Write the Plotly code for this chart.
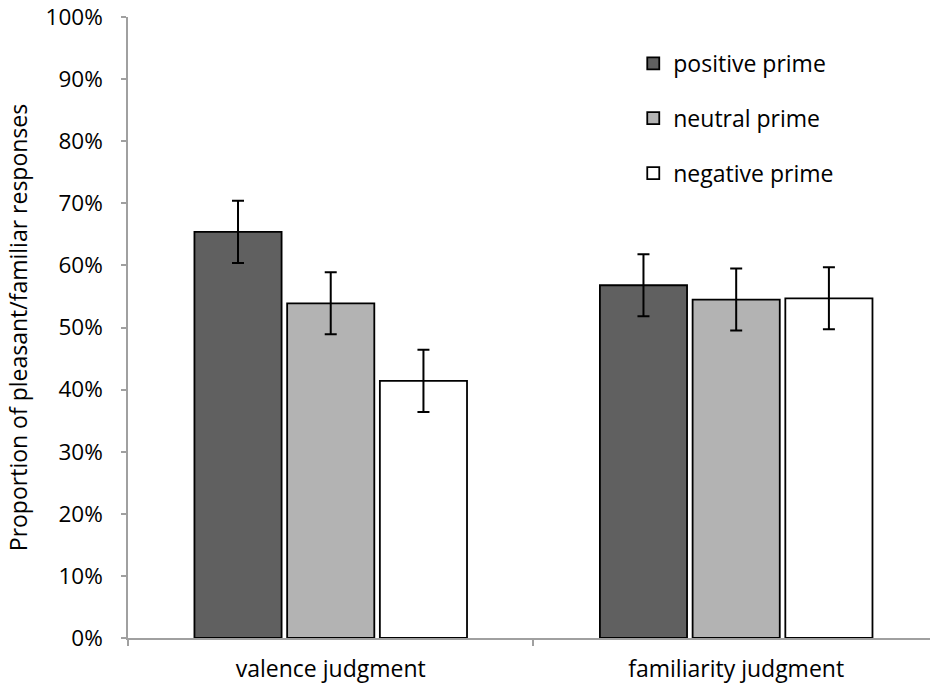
import plotly.graph_objects as go

categories = ["valence judgment", "familiarity judgment"]
series_names = ["positive prime", "neutral prime", "negative prime"]
positive = [0.654, 0.568]
neutral = [0.539, 0.545]
negative = [0.414, 0.547]
positive_err = [0.050, 0.050]
neutral_err = [0.050, 0.050]
negative_err = [0.050, 0.050]
y_ticks = [0, 0.1, 0.2, 0.3, 0.4, 0.5, 0.6, 0.7, 0.8, 0.9, 1.0]

colors = ["#606060", "#b3b3b3", "#ffffff"]
values = [positive, neutral, negative]
errs = [positive_err, neutral_err, negative_err]

FONT = "Open Sans"
fig = go.Figure()
for name, vals, err, col in zip(series_names, values, errs, colors):
    fig.add_trace(go.Bar(
        x=categories, y=vals, name=name, legendgroup=name,
        marker=dict(color=col, line=dict(color="#000000", width=1.8)),
        error_y=dict(type="data", array=err, visible=True, color="#000000",
                     thickness=2, width=6),
    ))

fig.update_layout(
    width=930, height=690,
    margin=dict(l=128, r=0, t=17, b=52, autoexpand=False),
    paper_bgcolor="white", plot_bgcolor="white",
    barmode="group", bargap=0.314, bargroupgap=0.06,
    font=dict(family=FONT, size=23, color="#000000"),
    showlegend=True,
    legend=dict(x=0.63, y=0.96, xanchor="left", yanchor="top",
                font=dict(family=FONT, size=23), tracegroupgap=22,
                bgcolor="rgba(0,0,0,0)", itemwidth=30),
    xaxis=dict(range=[-0.5, 1.478], showline=True, linecolor="#a0a0a0", linewidth=1.5,
               ticks="outside", tickson="boundaries", ticklen=6, tickcolor="#a0a0a0",
               tickwidth=1.5, showgrid=False, ticklabelstandoff=10, automargin=False,
               tickfont=dict(family=FONT, size=23)),
    yaxis=dict(range=[0, 1], tickvals=y_ticks, tickformat=".0%", showline=True,
               linecolor="#a0a0a0", linewidth=1.5, ticks="outside", ticklen=5,
               tickcolor="#a0a0a0", tickwidth=1.5, showgrid=False, zeroline=False,
               ticklabelstandoff=14, ticklabeloverflow="allow", automargin=False,
               tickfont=dict(family=FONT, size=22.5),
               title=dict(text="Proportion of pleasant/familiar responses",
                          font=dict(family=FONT, size=23), standoff=11)),
)

fig.write_html("out.html", config={"displayModeBar": False},
               post_script="document.body.style.margin='0';document.body.style.overflow='hidden';")
